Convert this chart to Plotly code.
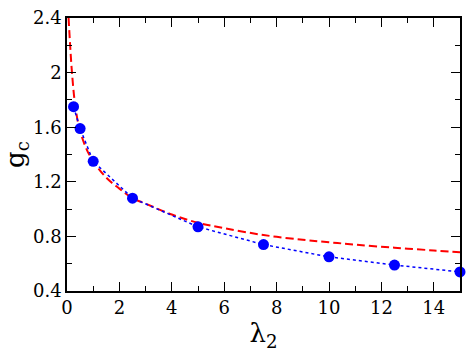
import plotly.graph_objects as go

# Blue symbols (numerical data)
lam_pts = [0.25, 0.5, 1.0, 2.5, 5.0, 7.5, 10.0, 12.5, 15.0]
gc_pts = [1.75, 1.59, 1.35, 1.08, 0.87, 0.74, 0.65, 0.59, 0.54]

# Red dashed curve
lam_curve = [0.06, 0.12, 0.19, 0.3, 0.45, 0.7, 1.0, 1.5, 2.0, 2.5, 3.0, 4.0, 5.0, 6.0, 7.5, 9.0, 10.0, 11.0, 12.5, 14.0, 15.0]
gc_curve = [2.40, 2.20, 2.00, 1.78, 1.61, 1.46, 1.35, 1.23, 1.15, 1.08, 1.04, 0.96, 0.90, 0.86, 0.81, 0.775, 0.757, 0.74, 0.717, 0.697, 0.684]

x_ticks = [0, 2, 4, 6, 8, 10, 12, 14]
y_ticks = [0.4, 0.8, 1.2, 1.6, 2.0, 2.4]
y_tick_labels = ["0.4", "0.8", "1.2", "1.6", "2", "2.4"]

fig = go.Figure()
fig.add_trace(go.Scatter(
    x=lam_curve, y=gc_curve, mode="lines",
    line=dict(color="#ff0000", width=2, dash="8px,4px", shape="spline"),
    showlegend=False,
))
fig.add_trace(go.Scatter(
    x=lam_pts, y=gc_pts, mode="lines+markers",
    line=dict(color="#0000ff", width=1.5, dash="dot"),
    marker=dict(color="#0000ff", size=11),
    showlegend=False, cliponaxis=False,
))

font = "DejaVu Serif"
fig.update_layout(
    width=469, height=356,
    margin=dict(l=67, r=7, t=9, b=65),
    paper_bgcolor="white", plot_bgcolor="white",
    font=dict(family=font, color="black", size=18),
    xaxis=dict(
        range=[0, 15], tickvals=x_ticks, ticks="inside", ticklen=9, tickwidth=1.2,
        tickcolor="black", showline=True, linecolor="black", linewidth=1.5,
        mirror="allticks", showgrid=False, zeroline=False, ticklabeloverflow="allow",
        minor=dict(dtick=1, tick0=0, ticks="inside", ticklen=5, tickcolor="black", showgrid=False),
        tickfont=dict(size=18, family=font, color="black"),
        title=dict(text="λ<sub>2</sub>", font=dict(size=26, family=font, color="black"), standoff=4),
    ),
    yaxis=dict(
        range=[0.4, 2.4], tickvals=y_ticks, ticktext=y_tick_labels, ticks="inside",
        ticklen=9, tickwidth=1.2, tickcolor="black", showline=True, linecolor="black",
        linewidth=1.5, mirror="allticks", showgrid=False, zeroline=False, ticklabeloverflow="allow",
        minor=dict(dtick=0.2, tick0=0.4, ticks="inside", ticklen=5, tickcolor="black", showgrid=False),
        tickfont=dict(size=18, family=font, color="black"),
        title=dict(text="g<sub>c</sub>", font=dict(size=26, family=font, color="black"), standoff=6),
    ),
)
fig.write_html("out.html", config={"displayModeBar": False},
               post_script="document.body.style.margin='0';")
